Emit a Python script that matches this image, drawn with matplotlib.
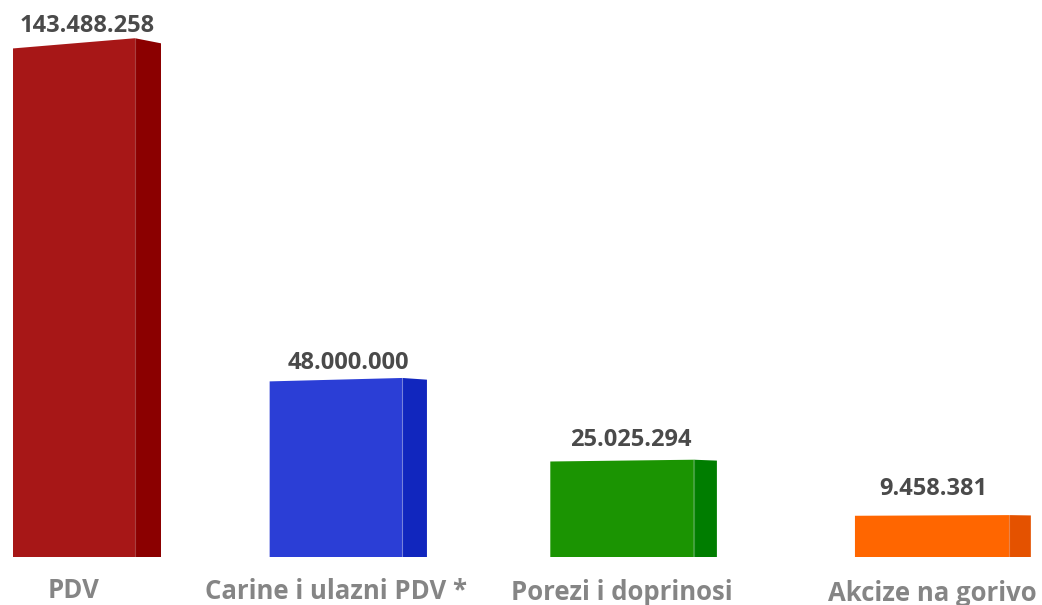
import matplotlib
matplotlib.use("Agg")
import matplotlib.pyplot as plt
from matplotlib.patches import Polygon

# ---- data ----
categories = ["PDV", "Carine i ulazni PDV *", "Porezi i doprinosi", "Akcize na gorivo"]
values = [143488258, 48000000, 25025294, 9458381]
value_labels = ["143.488.258", "48.000.000", "25.025.294", "9.458.381"]
front_colors = ["#A71717", "#2B3ED6", "#1B9402", "#FF6600"]
side_colors = ["#8B0000", "#1126BE", "#007D00", "#E45200"]

plt.rcParams['font.family'] = ['Open Sans', 'DejaVu Sans']

W, H = 1042, 605
fig = plt.figure(figsize=(W / 100, H / 100), dpi=100)
fig.patch.set_facecolor("white")

# axes: full width, from pixel row 557 (floor) up to top
floor_px = 557
ax = fig.add_axes([0, (H - floor_px) / H, 1, floor_px / H])
ax.set_axis_off()

floor_val = -8.25 / 3.558 * 1e6   # virtual 3D floor slightly below zero
top_val = (floor_px - 8.25) / 3.558 * 1e6
ax.set_xlim(0, W)
ax.set_ylim(floor_val, top_val)


# perspective layout along the x axis (pixel-like x units)
def center(i):
    return 74 + 262 * i + 12 * i * (i - 1)


def front_w(i):
    return 122 + 10.7 * i


def side_w(i):
    return 26 - 1.4 * i


def label_x(i):
    return center(i) + 13 + i - 1.67 * i * i


for i, (v, fc, sc) in enumerate(zip(values, front_colors, side_colors)):
    xl = center(i) - front_w(i) / 2
    xr = center(i) + front_w(i) / 2
    xs = xr + side_w(i)
    d_front = 0.02 * v
    d_side = 0.01 * v
    front = Polygon([(xl, floor_val), (xr, floor_val), (xr, v), (xl, v - d_front)],
                    closed=True, facecolor=fc, edgecolor="none", zorder=2)
    side = Polygon([(xr, floor_val), (xs, floor_val), (xs, v - d_side), (xr, v)],
                   closed=True, facecolor=sc, edgecolor="none", zorder=2)
    ax.add_patch(front)
    ax.add_patch(side)
    # subtle highlight edge between front and side
    ax.plot([xr, xr], [floor_val, v], color="white", alpha=0.25, lw=0.8, zorder=3)
    # value label
    ax.annotate(value_labels[i], xy=(label_x(i), v),
                xytext=(0, 4.3 + 1.6 * i + 0.6 * i * i), textcoords="offset points",
                ha="center", va="baseline", fontsize=17, fontweight="bold",
                color="#4a4a4a", zorder=4)
    # category label
    fig.text(center(i) / W, 1 - (591 + 0.7 * i) / H, categories[i],
             ha="center", va="center", fontsize=18.5, fontweight="bold",
             color="#858585")

fig.savefig("out.png", dpi=100)
